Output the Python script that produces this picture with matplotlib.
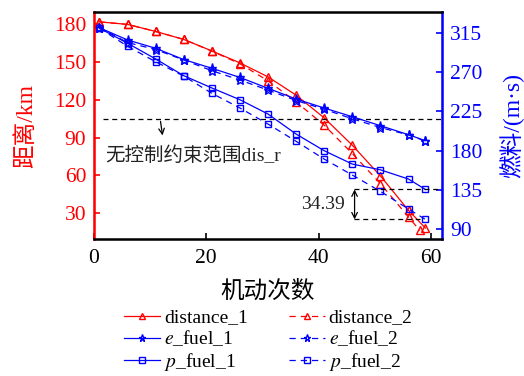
import matplotlib
matplotlib.use('Agg')
import matplotlib.pyplot as plt

plt.rcParams['font.family'] = ['Liberation Serif', 'Noto Sans CJK SC']
plt.rcParams['mathtext.fontset'] = 'stix'
plt.rcParams['axes.unicode_minus'] = False

# 数据
x_1 = [1, 6, 11, 16, 21, 26, 31, 36, 41, 46, 51, 56, 59]
x_d2 = [1, 6, 11, 16, 21, 26, 31, 36, 41, 46, 51, 56, 58]
distance_1 = [181.7, 179.7, 174.1, 167.8, 158.7, 149.2, 138.1, 123.6, 105.6, 83.9, 59.6, 32.3, 18.3]
distance_2 = [181.7, 179.7, 174.1, 167.8, 158.5, 148.5, 135.0, 118.3, 99.8, 77.3, 53.5, 27.0, 16.4]
e_fuel_1 = [321.0, 307.0, 297.4, 284.5, 274.5, 264.0, 251.5, 239.2, 228.9, 218.9, 208.6, 198.3, 191.4]
e_fuel_2 = [321.0, 304.0, 296.0, 284.0, 271.7, 261.0, 249.5, 237.5, 227.5, 216.5, 206.5, 198.0, 191.0]
p_fuel_1 = [320.5, 303.2, 285.2, 266.0, 251.9, 238.4, 222.0, 199.0, 179.9, 164.6, 158.0, 147.4, 135.5]
p_fuel_2 = [320.5, 299.7, 282.0, 265.5, 245.8, 228.9, 210.5, 190.7, 170.3, 152.0, 133.3, 113.0, 101.11]
dis_r = 105

fig = plt.figure(figsize=(5.24, 3.76), dpi=100)
ax = fig.add_axes([0.179, 0.364, 0.665, 0.604])
ax2 = ax.twinx()

fs = 14
tfs = 15.5
ax.plot(x_1, distance_1, '-', color='red', lw=0.9, marker='^', ms=6, mfc='none', label='distance_1')
ax.plot(x_d2, distance_2, '--', color='red', lw=0.9, marker='^', ms=6, mfc='none', label='distance_2', dashes=(5, 4))
ax2.plot(x_1, e_fuel_1, '-', color='blue', lw=0.9, marker='*', ms=6.5, mfc='none', label=r'$e$_fuel_1')
ax2.plot(x_1, e_fuel_2, '--', color='blue', lw=0.9, marker='*', ms=6.5, mfc='none', label=r'$e$_fuel_2', dashes=(5, 4))
ax2.plot(x_1, p_fuel_1, '-', color='blue', lw=0.9, marker='s', ms=5, mfc='none', label=r'$p$_fuel_1')
ax2.plot(x_1, p_fuel_2, '--', color='blue', lw=0.9, marker='s', ms=5, mfc='none', label=r'$p$_fuel_2', dashes=(5, 4))

ax.set_xlim(0, 62)
ax.set_ylim(9.5, 189.5)
ax2.set_ylim(78.5, 339)
ax.set_xticks([0, 20, 40, 60])
ax.set_yticks([30, 60, 90, 120, 150, 180])
ax2.set_yticks([90, 135, 180, 225, 270, 315])

# 无控制约束范围
ax.plot([1.6, 62], [dis_r, dis_r], color='black', lw=0.9, dashes=(4, 3))
ax.annotate('', xy=(12.3, 89.5), xytext=(11.8, dis_r),
            arrowprops=dict(arrowstyle='->', color='black', lw=0.9))
ax.text(2.1, 76, '无控制约束范围dis_r', fontsize=fs, va='center', ha='left', color='#222222')

# 34.39 标注
ax2.plot([46.3, 62], [p_fuel_1[-1], p_fuel_1[-1]], color='black', lw=0.9, dashes=(4, 3))
ax2.plot([46.3, 58], [p_fuel_2[-1], p_fuel_2[-1]], color='black', lw=0.9, dashes=(4, 3))
ax2.annotate('', xy=(46.4, p_fuel_2[-1]), xytext=(46.4, p_fuel_1[-1]),
             arrowprops=dict(arrowstyle='<->', color='black', lw=0.9, shrinkA=0, shrinkB=0))
ax2.text(40.7, 118.5, '%.2f' % (p_fuel_1[-1] - p_fuel_2[-1]), fontsize=fs, ha='center', va='center',
         color='#222222')

# 坐标轴样式
for sp in ['top', 'bottom']:
    ax2.spines[sp].set_linewidth(1.8)
ax2.spines['left'].set_color('red')
ax2.spines['left'].set_linewidth(1.8)
ax2.spines['right'].set_color('blue')
ax2.spines['right'].set_linewidth(1.8)
ax.tick_params(axis='x', direction='in', labelsize=tfs, width=1.2, length=4, pad=7)
ax.tick_params(axis='y', direction='in', labelsize=tfs, colors='red', width=1.2, length=4, pad=5.5)
ax2.tick_params(axis='y', direction='in', labelsize=tfs, colors='blue', width=1.2, length=4, pad=5.5)

ax.set_xlabel('机动次数', fontsize=17, labelpad=9)
ax.set_ylabel('距离/km', fontsize=17, color='red', labelpad=12)
ax2.set_ylabel('燃料/(m·s)', fontsize=17, color='blue', labelpad=12)

h1, l1 = ax.get_legend_handles_labels()
h2, l2 = ax2.get_legend_handles_labels()
handles = [h1[0], h2[0], h2[2], h1[1], h2[1], h2[3]]
labels = [l1[0], l2[0], l2[2], l1[1], l2[1], l2[3]]
fig.legend(handles, labels, loc='upper center', bbox_to_anchor=(0.512, 0.207),
           ncol=2, frameon=False, fontsize=14, handlelength=1.85, handletextpad=0.2,
           columnspacing=2.1, labelspacing=0.12, borderpad=0.05, markerscale=0.8)

fig.savefig('out.png', dpi=100)
